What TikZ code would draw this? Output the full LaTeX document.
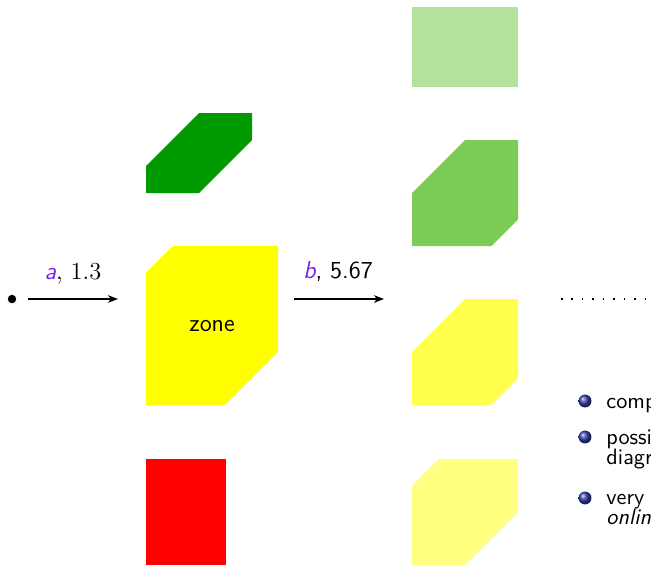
\documentclass[tikz,border=0pt]{standalone}
\usepackage{fontspec}
\usetikzlibrary{arrows.meta}
\definecolor{zoneyellow}{RGB}{255,255,0}
\definecolor{pured}{RGB}{255,0,0}
\definecolor{dkgreen}{RGB}{0,153,0}
\definecolor{midgreen}{RGB}{124,205,85}
\definecolor{ltgreen}{RGB}{179,226,155}
\definecolor{yelA}{RGB}{255,255,77}
\definecolor{yelB}{RGB}{255,255,128}
\definecolor{lblpurple}{RGB}{128,32,240}
\definecolor{ballblue}{RGB}{50,62,175}
\begin{document}
\begin{tikzpicture}[x=0.45pt,y=-0.45pt,
  arr/.style={line width=0.6pt,-{Stealth[length=4.5pt,width=3.4pt,inset=1.3pt]}},
  lbl/.style={anchor=base,inner sep=0pt,font=\fontsize{11}{13}\selectfont},
  itemtxt/.style={anchor=base west,inner sep=0pt,font=\sffamily\fontsize{10}{12}\selectfont},
  ballbullet/.style={ball color=ballblue},
  var/.style={text=lblpurple}]
\useasboundingbox (0,0) rectangle (651,564);
\clip (0,0) rectangle (651,564);
% left column
\fill[dkgreen] (146,166) -- (199,113) -- (252,113) -- (252,140) -- (199,193) -- (146,193) -- cycle;
\fill[zoneyellow] (146,272.5) -- (172.5,246) -- (278,246) -- (278,352) -- (225,405) -- (146,405) -- cycle;
\node[font=\sffamily\fontsize{11}{13}\selectfont,inner sep=0pt] (zone) at (212,326) {zone};
\fill[pured] (146,459) rectangle (226,600);
% right column
\fill[ltgreen] (412,7) rectangle (518,87);
\fill[midgreen] (412,193) -- (465,140) -- (518,140) -- (518,219.5) -- (491.5,246) -- (412,246) -- cycle;
\fill[yelA] (412,352) -- (465,299) -- (518,299) -- (518,378.5) -- (491.5,405) -- (412,405) -- cycle;
\fill[yelB] (412,485.5) -- (438.5,459) -- (518,459) -- (518,512) -- (465,565) -- (412,565) -- cycle;
% connectors
\node[circle,fill=black,inner sep=0pt,minimum size=3.8pt] (src) at (12,299) {};
\coordinate (a1s) at (28,299);
\coordinate (a1e) at (118,299);
\coordinate (a2s) at (294,299);
\coordinate (a2e) at (384,299);
\coordinate (d1s) at (561,299);
\coordinate (d1e) at (655,299);
\draw[arr] (a1s) -- (a1e);
\draw[arr] (a2s) -- (a2e);
\node[lbl] (la) at (73,279) {{\sffamily\itshape\color{lblpurple}a}, 1.3};
\node[lbl] (lb) at (338,278) {\sffamily{\itshape\color{lblpurple}b}, 5.67};
\draw[line width=0.7pt,loosely dotted] (d1s) -- (d1e);
% bullet list
\shade[ballbullet] (585,401) circle (2.9pt);
\shade[ballbullet] (585,437) circle (2.9pt);
\shade[ballbullet] (585,498) circle (2.9pt);
\node[itemtxt] (i1) at (606,408) {comp};
\node[itemtxt] (i2) at (606,444) {possi};
\node[itemtxt] (i2b) at (606,464) {diagr};
\node[itemtxt] (i3) at (606,504) {very};
\node[itemtxt] (i3b) at (606,524) {\itshape onlin};
\end{tikzpicture}
\end{document}
